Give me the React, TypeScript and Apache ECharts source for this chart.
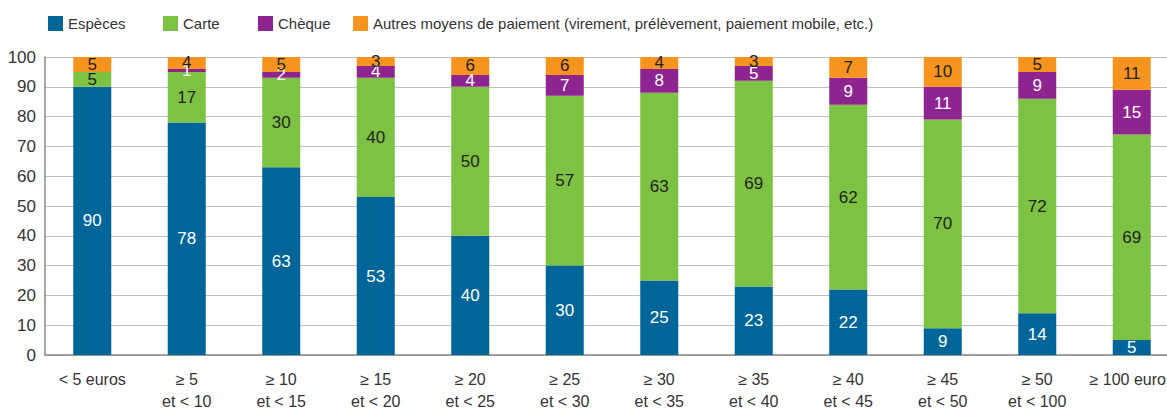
import React, { useEffect, useRef } from "react";
import * as echarts from "echarts";

const categories = [
  "< 5 euros",
  "≥ 5\net < 10",
  "≥ 10\net < 15",
  "≥ 15\net < 20",
  "≥ 20\net < 25",
  "≥ 25\net < 30",
  "≥ 30\net < 35",
  "≥ 35\net < 40",
  "≥ 40\net < 45",
  "≥ 45\net < 50",
  "≥ 50\net < 100",
  "≥ 100 euros",
];
const especes = [90, 78, 63, 53, 40, 30, 25, 23, 22, 9, 14, 5];
const carte = [5, 17, 30, 40, 50, 57, 63, 69, 62, 70, 72, 69];
const cheque = [0, 1, 2, 4, 4, 7, 8, 5, 9, 11, 9, 15];
const autres = [5, 4, 5, 3, 6, 6, 4, 3, 7, 10, 5, 11];

const seriesNames = [
  "Espèces",
  "Carte",
  "Chèque",
  "Autres moyens de paiement (virement, prélèvement, paiement mobile, etc.)",
];
const colors = ["#00669a", "#7dc242", "#8e2490", "#f7941d"];
const labelColors = ["#ffffff", "#222222", "#ffffff", "#222222"];
const legendLefts = [43, 158, 253, 348];

const FONT = "'Liberation Sans', 'Roboto', sans-serif";

export default function App() {
  const ref = useRef<HTMLDivElement>(null);
  useEffect(() => {
    if (!ref.current) return;
    const chart = echarts.init(ref.current, null, { renderer: "svg" });
    const data = [especes, carte, cheque, autres];
    chart.setOption({
      animation: false,
      textStyle: { fontFamily: FONT },
      legend: seriesNames.map((name, i) => ({
        left: legendLefts[i],
        top: 11,
        itemWidth: 15,
        itemHeight: 15,
        itemGap: 6,
        icon: "rect",
        textStyle: { fontFamily: FONT, fontSize: 15, color: "#333" },
        data: [name],
      })),
      grid: { left: 45, right: 0, top: 57, bottom: 47 },
      xAxis: {
        type: "category",
        data: categories,
        axisLine: { show: true, lineStyle: { color: "#888", width: 1.5 } },
        axisTick: { show: false },
        axisLabel: {
          interval: 0,
          margin: 13,
          fontFamily: FONT,
          fontSize: 16,
          lineHeight: 22,
          color: "#333",
          verticalAlign: "top",
        },
      },
      yAxis: {
        type: "value",
        min: 0,
        max: 100,
        interval: 10,
        axisLine: { show: true, lineStyle: { color: "#888", width: 1.5 } },
        axisTick: { show: false },
        splitLine: { lineStyle: { color: "#c0c0c0", width: 1 } },
        axisLabel: { fontFamily: FONT, fontSize: 17, color: "#333", margin: 9 },
      },
      series: seriesNames.map((name, i) => ({
        name,
        type: "bar",
        stack: "total",
        barWidth: 38,
        data: data[i],
        itemStyle: { color: colors[i] },
        label: {
          show: true,
          position: "inside",
          fontFamily: FONT,
          fontSize: 17,
          color: labelColors[i],
          formatter: (p: any) => (p.value === 0 ? "" : String(p.value)),
        },
      })),
    });
    return () => chart.dispose();
  }, []);
  return (
    <div
      style={{
        position: "absolute",
        left: 0,
        top: 0,
        width: 1167,
        height: 412,
        overflow: "hidden",
      }}
    >
      <div ref={ref} style={{ width: 1179, height: 412 }} />
    </div>
  );
}
